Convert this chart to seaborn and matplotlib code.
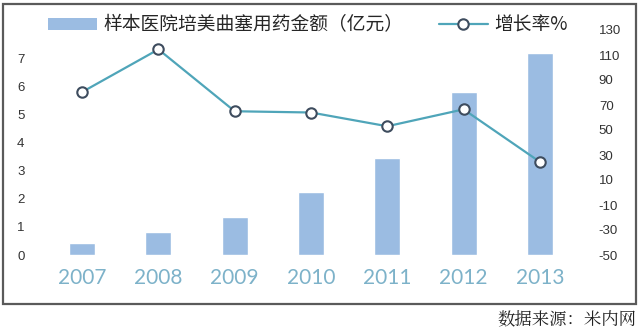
import matplotlib
matplotlib.use("Agg")
import matplotlib.pyplot as plt
import seaborn as sns
import pandas as pd
from matplotlib.patches import Rectangle, Patch
from matplotlib.lines import Line2D

years = ["2007", "2008", "2009", "2010", "2011", "2012", "2013"]
amount = [0.43, 0.82, 1.36, 2.23, 3.45, 5.80, 7.17]          # 亿元
growth = [80.4, 114.5, 65.0, 64.0, 53.0, 66.5, 24.5]          # %
left_ticks = [0, 1, 2, 3, 4, 5, 6, 7]
right_ticks = [-50, -30, -10, 10, 30, 50, 70, 90, 110, 130]

bar_label = "样本医院培美曲塞用药金额（亿元）"
line_label = "增长率%"
source = "数据来源：米内网"

df = pd.DataFrame({"year": years, "amount": amount, "growth": growth})

sns.set_theme(style="white")
cjk = ["Noto Sans CJK SC", "DejaVu Sans"]
plt.rcParams["font.family"] = cjk
plt.rcParams["axes.unicode_minus"] = False

bar_color = "#9BBCE2"
line_color = "#4FA5B9"
edge_color = "#3E4C5E"
num_font = ["Liberation Sans", "DejaVu Sans"]

fig = plt.figure(figsize=(6.4, 3.36), dpi=100)
fig.patch.set_facecolor("white")
ax = fig.add_axes([44 / 640, 1 - 255 / 336, 534 / 640, 225 / 336])

sns.barplot(data=df, x="year", y="amount", color=bar_color, width=0.34,
            saturation=1, ax=ax, zorder=2)
ax.set_ylim(0, 8)
ax.set_yticks(left_ticks)
ax.set_xlim(-0.5, 6.5)

ax2 = ax.twinx()
sns.pointplot(data=df, x="year", y="growth", color=line_color, ax=ax2,
              markers="o", linestyles="-", linewidth=1.6,
              markersize=7.5, markerfacecolor="white",
              markeredgecolor=edge_color, markeredgewidth=1.5)
ax2.set_ylim(-50, 130)
ax2.set_yticks(right_ticks)
ax2.set_xlim(-0.5, 6.5)

for a in (ax, ax2):
    for s in a.spines.values():
        s.set_visible(False)
    a.set_xlabel("")
    a.set_ylabel("")
    a.grid(False)
    a.tick_params(length=0)

ax.tick_params(axis="y", labelsize=9.5, labelcolor="#333333", pad=14)
ax2.tick_params(axis="y", labelsize=9.5, labelcolor="#333333", pad=15)
for t in ax.get_yticklabels() + ax2.get_yticklabels():
    t.set_fontfamily(num_font)
ax.tick_params(axis="x", pad=9)
for t in ax.get_xticklabels():
    t.set_fontfamily(["Lato", "DejaVu Sans"])
    t.set_fontsize(15)
    t.set_color("#7DB2C9")
ax2.tick_params(axis="x", labelbottom=False)

handles = [Patch(facecolor=bar_color, edgecolor="none"),
           Line2D([], [], color=line_color, lw=1.6, marker="o", markersize=7.5,
                  markerfacecolor="white", markeredgecolor=edge_color,
                  markeredgewidth=1.5)]
fig.legend(handles, [bar_label, line_label], loc="center left",
           bbox_to_anchor=(48 / 640, 1 - 25 / 336), ncol=2, frameon=False,
           handlelength=2.6, handleheight=0.55, handletextpad=0.35,
           columnspacing=1.9, borderaxespad=0, borderpad=0,
           prop={"family": cjk, "size": 13.5, "weight": "medium"})

fig.patches.append(Rectangle((3 / 640, 1 - 304 / 336), 633 / 640, 300 / 336,
                             transform=fig.transFigure, fill=False,
                             edgecolor="#5A5A5A", linewidth=1.6))

fig.text(636 / 640, 1 - 321 / 336, source, ha="right", va="center",
         fontsize=12.5, color="#222222",
         family=["Noto Serif CJK SC", "Noto Sans CJK SC", "DejaVu Sans"])

fig.savefig("out.png", dpi=100, facecolor="white")
